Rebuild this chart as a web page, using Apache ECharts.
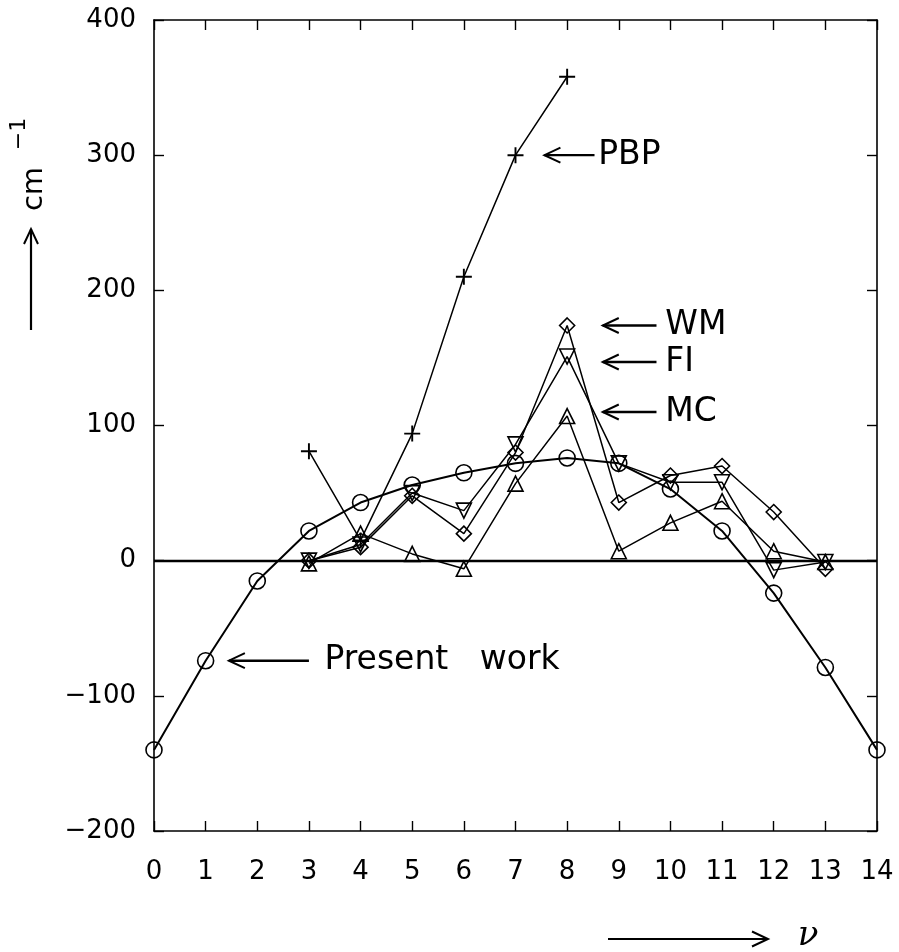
<!DOCTYPE html>
<html>
<head>
<meta charset="utf-8">
<script src="https://cdn.jsdelivr.net/npm/echarts@6/dist/echarts.min.js"></script>
<style>
  html, body { margin: 0; padding: 0; background: #fff; }
  #chart { width: 899px; height: 952px; }
</style>
</head>
<body>
<div id="chart"></div>
<script>
// vibrational quantum number
const nu = [0, 1, 2, 3, 4, 5, 6, 7, 8, 9, 10, 11, 12, 13, 14];
// energy differences in cm^-1 for each calculation
const presentWork = [-140, -74, -15, 22, 43, 56, 65, 72, 76, 72, 53, 22, -24, -79, -140];
const pbp = [null, null, null, 81, 15, 94, 210, 300, 358, null, null, null, null, null, null];
const wm  = [null, null, null, 0, 10, 48, 20, 80, 174, 43, 63, 70, 36, -6, null];
const fi  = [null, null, null, 0, 12, 50, 37, 86, 151, 72, 58, 58, -7, -1, null];
const mc  = [null, null, null, -2, 20, 5, -6, 57, 107, 7, 28, 44, 7, -1, null];
const yTicks = [-200, -100, 0, 100, 200, 300, 400];

const FONT = 'DejaVu Sans';
const pairs = vals => nu.map((x, i) => vals[i] === null ? null : [x, vals[i]]).filter(p => p);

const hollow = { color: 'rgba(0,0,0,0)', borderColor: '#000', borderWidth: 1.6 };
const plusPath = 'path://M4.4,0H5.6V4.4H10V5.6H5.6V10H4.4V5.6H0V4.4H4.4Z';

function lineSeries(name, vals, symbol, size, extra) {
  return Object.assign({
    name, type: 'line', data: pairs(vals), symbol, symbolSize: size,
    itemStyle: hollow,
    lineStyle: { color: '#000', width: 1.5 },
    connectNulls: false, z: 3
  }, extra || {});
}

const axisLine = { show: true, onZero: false, lineStyle: { color: '#000', width: 1.6 } };
const axisTick = { show: true, inside: true, length: 10, lineStyle: { color: '#000', width: 1.4 } };

const chart = echarts.init(document.getElementById('chart'), null, { renderer: 'canvas' });

const option = {
  animation: false,
  backgroundColor: '#fff',
  grid: { left: 154, right: 22, top: 20, bottom: 121 },
  xAxis: [
    {
      type: 'value', min: 0, max: 14, interval: 1, position: 'bottom',
      axisLine, axisTick,
      axisLabel: { color: '#000', fontFamily: FONT, fontSize: 26, margin: 28 },
      splitLine: { show: false }
    },
    {
      type: 'value', min: 0, max: 14, interval: 1, position: 'top',
      axisLine, axisTick,
      axisLabel: { show: false }, splitLine: { show: false }
    }
  ],
  yAxis: [
    {
      type: 'value', min: yTicks[0], max: yTicks[yTicks.length - 1], interval: 100, position: 'left',
      axisLine, axisTick,
      axisLabel: {
        color: '#000', fontFamily: FONT, fontSize: 26, margin: 18,
        formatter: v => v < 0 ? '\u2212' + Math.abs(v) : String(v)
      },
      splitLine: { show: false }
    },
    {
      type: 'value', min: yTicks[0], max: yTicks[yTicks.length - 1], interval: 100, position: 'right',
      axisLine, axisTick,
      axisLabel: { show: false }, splitLine: { show: false }
    }
  ],
  series: [
    lineSeries('Present work', presentWork, 'circle', 16, {
      lineStyle: { color: '#000', width: 2 },
      markLine: {
        silent: true, symbol: 'none', label: { show: false },
        lineStyle: { color: '#000', width: 2.4, type: 'solid' },
        data: [{ yAxis: 0 }]
      }
    }),
    lineSeries('PBP', pbp, plusPath, 16, { itemStyle: { color: '#000', borderWidth: 0 } }),
    lineSeries('WM', wm, 'diamond', 15),
    lineSeries('FI', fi, 'triangle', 15, { symbolRotate: 180 }),
    lineSeries('MC', mc, 'triangle', 15)
  ]
};

chart.setOption(option);

// annotations placed in data coordinates
const px = (x, y) => chart.convertToPixel({ xAxisIndex: 0, yAxisIndex: 0 }, [x, y]);

function leftArrow(x0, x1, y) {
  const a = px(x0, y), b = px(x1, y);
  return [
    { type: 'polyline', shape: { points: [[b[0], a[1]], [a[0], a[1]]] },
      style: { stroke: '#000', lineWidth: 2.4, fill: null } },
    { type: 'polyline', shape: { points: [[a[0] + 16, a[1] - 7.5], [a[0], a[1]], [a[0] + 16, a[1] + 7.5]] },
      style: { stroke: '#000', lineWidth: 2, fill: null } }
  ];
}
function label(text, x, y) {
  const p = px(x, y);
  return { type: 'text', x: p[0], y: p[1],
    style: { text, fill: '#000', font: '33px "' + FONT + '"', align: 'left', verticalAlign: 'middle' } };
}

const notes = [
  { text: 'PBP', x0: 7.56, x1: 8.53, tx: 8.6, y: 300 },
  { text: 'WM', x0: 8.69, x1: 9.73, tx: 9.9, y: 174 },
  { text: 'FI', x0: 8.69, x1: 9.73, tx: 9.9, y: 147 },
  { text: 'MC', x0: 8.69, x1: 9.73, tx: 9.9, y: 110 },
  { text: 'Present   work', x0: 1.45, x1: 3.0, tx: 3.3, y: -74 }
];

const graphic = [];
notes.forEach(n => {
  leftArrow(n.x0, n.x1, n.y).forEach(g => graphic.push(g));
  graphic.push(label(n.text, n.tx, n.y));
});

// y-axis title: arrow pointing up, then "cm" with superscript -1
graphic.push(
  { type: 'polyline', shape: { points: [[31, 330], [31, 229]] }, style: { stroke: '#000', lineWidth: 2.2, fill: null } },
  { type: 'polyline', shape: { points: [[24, 244], [31, 229], [38, 244]] }, style: { stroke: '#000', lineWidth: 2, fill: null } },
  { type: 'text', x: 34, y: 189, rotation: Math.PI / 2,
    style: { text: 'cm', fill: '#000', font: '29px "' + FONT + '"', align: 'center', verticalAlign: 'middle' } },
  { type: 'text', x: 19, y: 134, rotation: Math.PI / 2,
    style: { text: '\u22121', fill: '#000', font: '22px "' + FONT + '"', align: 'center', verticalAlign: 'middle' } }
);

// x-axis title: arrow pointing right, then nu
graphic.push(
  { type: 'polyline', shape: { points: [[608, 939], [768, 939]] }, style: { stroke: '#000', lineWidth: 2.2, fill: null } },
  { type: 'polyline', shape: { points: [[752, 931.5], [768, 939], [752, 946.5]] }, style: { stroke: '#000', lineWidth: 2, fill: null } },
  { type: 'text', x: 808, y: 936,
    style: { text: '\u03bd', fill: '#000', font: 'italic 34px "DejaVu Serif"', align: 'center', verticalAlign: 'middle' } }
);

chart.setOption({ graphic });
</script>
</body>
</html>
